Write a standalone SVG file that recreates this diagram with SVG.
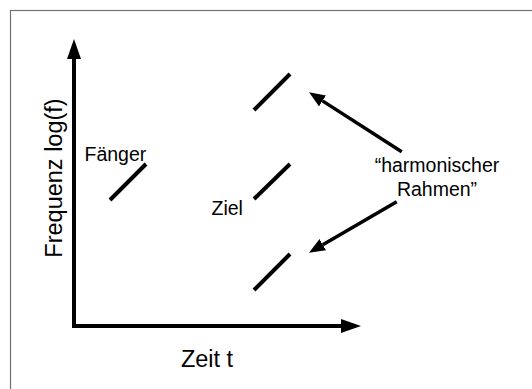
<svg xmlns="http://www.w3.org/2000/svg" width="532" height="389" viewBox="0 0 532 389">
<style>
.t{font-family:"Liberation Sans",Arial,Helvetica,sans-serif;fill:#000}
.s{font-size:19.5px}
.a{font-size:23.5px}
.seg{stroke:#000;stroke-width:4;stroke-linecap:butt;fill:none}
.ax{stroke:#000;stroke-width:4;fill:none}
.ar{stroke:#000;stroke-width:3.5;fill:none}
</style>
<defs>
<marker id="hAx" markerUnits="userSpaceOnUse" markerWidth="20" markerHeight="14" refX="0" refY="7" orient="auto" viewBox="0 0 20 14">
<path d="M0,0 L20,7 L0,14 z" fill="#000"/>
</marker>
<marker id="hAr" markerUnits="userSpaceOnUse" markerWidth="16" markerHeight="13" refX="0" refY="6.5" orient="auto" viewBox="0 0 16 13">
<path d="M0,0 L16,6.5 L0,13 z" fill="#000"/>
</marker>
</defs>
<rect x="10.5" y="10.5" width="540" height="400" fill="#fff" stroke="#707070" stroke-width="1.2"/>
<g id="connectors">
<line class="ax" x1="74" y1="328" x2="74" y2="59" marker-end="url(#hAx)"/>
<line class="ax" x1="72" y1="326" x2="341" y2="326" marker-end="url(#hAx)"/>
<line class="ar" x1="401.7" y1="151.7" x2="322.5" y2="100.9" marker-end="url(#hAr)"/>
<line class="ar" x1="396.7" y1="201.7" x2="322.8" y2="244.7" marker-end="url(#hAr)"/>
</g>
<g id="faenger">
<line class="seg" x1="110" y1="200" x2="146" y2="164"/>
<text class="t s" x="84.5" y="160.5">Fänger</text>
</g>
<g id="ziel">
<line class="seg" x1="254" y1="199" x2="290" y2="164"/>
<text class="t s" x="211.5" y="215">Ziel</text>
</g>
<g id="harm-top">
<line class="seg" x1="254" y1="110" x2="290" y2="74"/>
</g>
<g id="harm-bottom">
<line class="seg" x1="254" y1="290" x2="290" y2="254"/>
</g>
<g id="label-harm">
<text class="t s" x="437" y="171.5" text-anchor="middle">“harmonischer</text>
<text class="t s" x="437" y="195.5" text-anchor="middle">Rahmen”</text>
</g>
<g id="axis-labels">
<text class="t a" x="0" y="0" text-anchor="middle" transform="translate(62,178) rotate(-90)">Frequenz log(f)</text>
<text class="t a" x="207" y="367" text-anchor="middle">Zeit t</text>
</g>
</svg>
